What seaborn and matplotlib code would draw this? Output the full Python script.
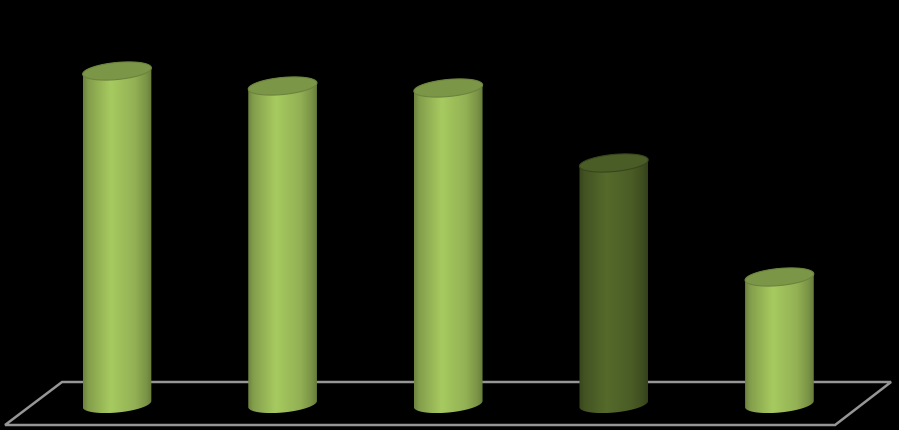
import numpy as np
import pandas as pd
import seaborn as sns
import matplotlib
matplotlib.use('Agg')
import matplotlib.pyplot as plt
from matplotlib.path import Path
from matplotlib.patches import PathPatch, Polygon
from matplotlib.colors import to_rgb

# datos (sin etiquetas visibles)
categorias = ['A', 'B', 'C', 'D', 'E']
valores = [33.3, 31.8, 31.6, 24.1, 12.7]
colores = ['#9bbb59', '#9bbb59', '#9bbb59', '#4f6228', '#9bbb59']

df = pd.DataFrame({'cat': categorias, 'val': valores})

sns.set_style('dark')
fig = plt.figure(figsize=(8.99, 4.31), dpi=100, facecolor='black')
ax = fig.add_axes([0, 0, 1, 1])
ax.set_facecolor('black')

sns.barplot(data=df, x='cat', y='val', hue='cat', palette=colores,
            width=0.417, legend=False, ax=ax)

ax.set_xlim(-0.7065, 4.722)
ax.set_ylim(-2.6, 40.5)
ax.axis('off')

# escala pixel por unidad
px_x = 899 / (4.722 + 0.7065)
px_y = 431 / (40.5 + 2.6)

# suelo en perspectiva
suelo = [(-0.332, 2.2), (4.674, 2.2), (4.336, -2.1), (-0.676, -2.1)]
ax.add_patch(Polygon(suelo, closed=True, fill=False, edgecolor='#969696',
                     lw=1.8, zorder=1))

a_px, b_px, rot = 34.5, 8.5, np.deg2rad(5.5)


def elipse(cx, cy, t):
    ex = a_px * np.cos(t)
    ey = b_px * np.sin(t)
    rx = ex * np.cos(rot) - ey * np.sin(rot)
    ry = ex * np.sin(rot) + ey * np.cos(rot)
    return np.column_stack([cx + rx / px_x, cy + ry / px_y])


# perfil de brillo horizontal del cilindro
u = np.linspace(0, 1, 200)
brillo = np.interp(u, [0, 0.08, 0.4, 0.75, 0.93, 1], [0.70, 0.85, 1.08, 0.95, 0.78, 0.66])

for i, (p, col) in enumerate(zip(ax.patches, colores)):
    p.set_alpha(0)
    cx = p.get_x() + p.get_width() / 2
    h = p.get_height()
    base = np.array(to_rgb(col))

    abajo = elipse(cx, 0, np.linspace(np.pi, 2 * np.pi, 60))
    arriba = elipse(cx, h, np.linspace(0, np.pi, 60))
    cuerpo = np.vstack([abajo, arriba, abajo[:1]])
    clip = PathPatch(Path(cuerpo), transform=ax.transData, facecolor='none',
                     edgecolor='none')
    ax.add_patch(clip)

    grad = np.clip(base[None, None, :] * brillo[None, :, None], 0, 1)
    x0, x1 = cuerpo[:, 0].min(), cuerpo[:, 0].max()
    y0, y1 = cuerpo[:, 1].min(), cuerpo[:, 1].max()
    im = ax.imshow(grad, extent=[x0, x1, y0, y1], aspect='auto', zorder=2,
                   interpolation='bilinear')
    im.set_clip_path(clip)

    f = 0.95 if col == '#4f6228' else 0.8
    tapa = elipse(cx, h, np.linspace(0, 2 * np.pi, 120))
    ax.add_patch(Polygon(tapa, closed=True, facecolor=np.clip(base * f, 0, 1),
                         edgecolor=base * 0.7, lw=0.8, zorder=3))

ax.set_xlim(-0.7065, 4.722)
ax.set_ylim(-2.6, 40.5)

plt.savefig('out.png', dpi=100, facecolor='black')
